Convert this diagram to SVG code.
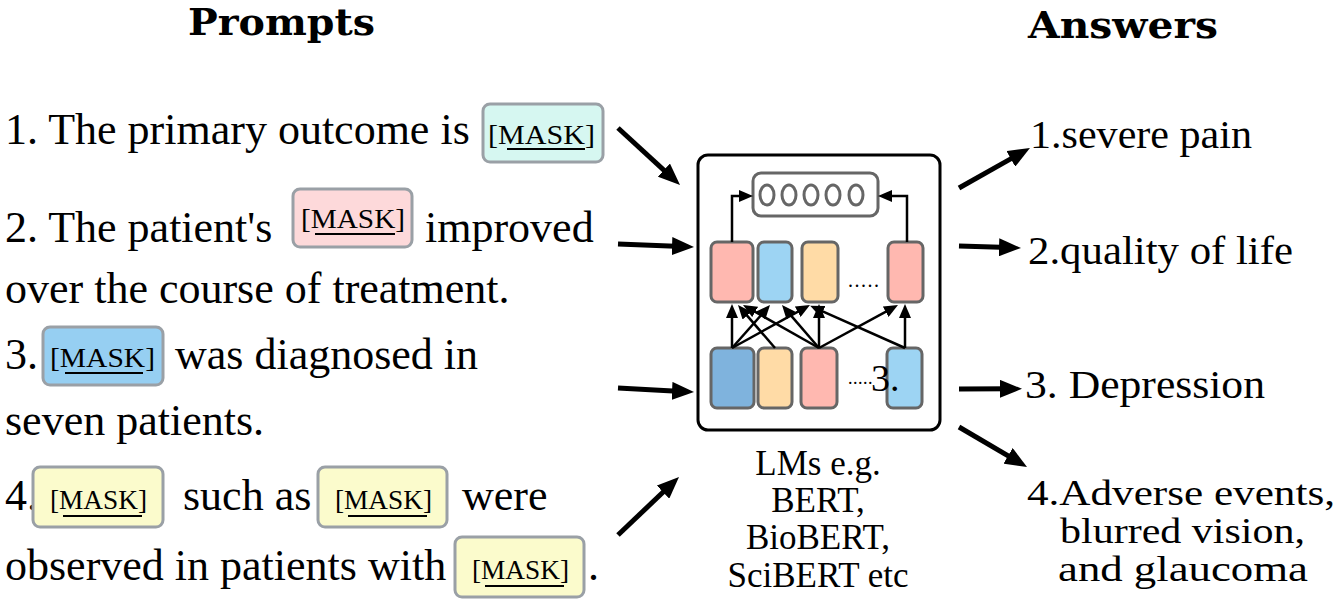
<svg xmlns="http://www.w3.org/2000/svg" width="1338" height="601" viewBox="0 0 1338 601">
<style>
.t{font-family:"Liberation Serif","Times New Roman",serif;font-size:44px;fill:#000}
.r{font-family:"Liberation Serif","Times New Roman",serif;font-size:40px;fill:#000}
.r4{font-family:"Liberation Serif","Times New Roman",serif;font-size:35px;fill:#000}
.lm{font-family:"Liberation Serif","Times New Roman",serif;font-size:35px;fill:#000;text-anchor:middle}
.h{font-family:"DejaVu Serif","Liberation Serif",serif;font-weight:bold;font-size:38px;fill:#000}
.mk{font-family:"Liberation Serif","Times New Roman",serif;font-size:28px;fill:#000}
.ul{stroke:#000;stroke-width:2}
.mbox{stroke:#9aa0a6;stroke-width:3}
.cell{stroke:#666;stroke-width:3}
.pink{fill:#ffb8b0}.blue{fill:#9dd4f3}.orange{fill:#ffdba6}.dblue{fill:#7fb3dd}
.big{stroke:#000;stroke-width:5;fill:none}
.small{stroke:#000;stroke-width:2.5;fill:none}
</style>
<defs>
<marker id="ab" markerUnits="userSpaceOnUse" markerWidth="24" markerHeight="18" refX="10" refY="9" orient="auto">
<path d="M0,0 L22,9 L0,18 z" fill="#000"/>
</marker>
<marker id="as" markerUnits="userSpaceOnUse" markerWidth="14" markerHeight="12" refX="4" refY="6" orient="auto">
<path d="M0,0 L14,6 L0,12 z" fill="#000"/>
</marker>
</defs>
<rect width="1338" height="601" fill="#fff"/>

<g id="titles">
<text class="h" x="188" y="35" textLength="187" lengthAdjust="spacingAndGlyphs">Prompts</text>
<text class="h" x="1028" y="38" textLength="190" lengthAdjust="spacingAndGlyphs">Answers</text>
</g>

<g id="prompt1">
<text class="t" x="5" y="144">1. The primary outcome is</text>
<rect class="mbox" x="483" y="104" width="120" height="58" rx="7" fill="#d6f7f1"/>
<text class="mk" x="488" y="144" textLength="107" lengthAdjust="spacingAndGlyphs">[MASK]</text>
<line class="ul" x1="507" y1="149" x2="585" y2="149"/>
</g>

<g id="prompt2">
<text class="t" x="5" y="242">2. The patient's</text>
<rect class="mbox" x="293" y="189" width="119" height="58" rx="7" fill="#fdd9da"/>
<text class="mk" x="301" y="228" textLength="104" lengthAdjust="spacingAndGlyphs">[MASK]</text>
<line class="ul" x1="315" y1="234" x2="395" y2="234"/>
<text class="t" x="425" y="242">improved</text>
<text class="t" x="5" y="303">over the course of treatment.</text>
</g>

<g id="prompt3">
<text class="t" x="5" y="369">3.</text>
<rect class="mbox" x="43" y="327" width="120" height="58" rx="7" fill="#96cff2"/>
<text class="mk" x="50" y="367" textLength="105" lengthAdjust="spacingAndGlyphs">[MASK]</text>
<line class="ul" x1="65" y1="373" x2="143" y2="373"/>
<text class="t" x="175" y="369">was diagnosed in</text>
<text class="t" x="5" y="435">seven patients.</text>
</g>

<g id="prompt4">
<text class="t" x="5" y="510">4.</text>
<rect class="mbox" x="33" y="467" width="130" height="60" rx="7" fill="#fbfbcc"/>
<text class="mk" x="50" y="509" textLength="97" lengthAdjust="spacingAndGlyphs">[MASK]</text>
<line class="ul" x1="63" y1="516" x2="142" y2="516"/>
<text class="t" x="183" y="510">such as</text>
<rect class="mbox" x="318" y="467" width="129" height="60" rx="7" fill="#fbfbcc"/>
<text class="mk" x="335" y="509" textLength="97" lengthAdjust="spacingAndGlyphs">[MASK]</text>
<line class="ul" x1="348" y1="516" x2="427" y2="516"/>
<text class="t" x="462" y="510">were</text>
<text class="t" x="5" y="580">observed in patients with</text>
<rect class="mbox" x="455" y="537" width="129" height="60" rx="7" fill="#fbfbcc"/>
<text class="mk" x="472" y="579" textLength="97" lengthAdjust="spacingAndGlyphs">[MASK]</text>
<line class="ul" x1="485" y1="586" x2="564" y2="586"/>
<text class="t" x="588" y="580">.</text>
</g>

<g id="lm">
<rect x="698" y="155" width="242" height="275" rx="10" fill="#fff" stroke="#000" stroke-width="3"/>
<g id="output">
<rect class="cell" x="753" y="173" width="125" height="43" rx="8" fill="#fff"/>
<g fill="none" stroke="#666" stroke-width="3">
<ellipse cx="767" cy="195" rx="7" ry="10"/>
<ellipse cx="789" cy="195" rx="7" ry="10"/>
<ellipse cx="811" cy="195" rx="7" ry="10"/>
<ellipse cx="833" cy="195" rx="7" ry="10"/>
<ellipse cx="856" cy="195" rx="7" ry="10"/>
</g>
</g>
<g id="upper">
<rect class="cell pink" x="711" y="242" width="42" height="60" rx="6"/>
<rect class="cell blue" x="758" y="242" width="34" height="60" rx="6"/>
<rect class="cell orange" x="802" y="242" width="36" height="60" rx="6"/>
<rect class="cell pink" x="888" y="242" width="35" height="60" rx="6"/>
<text x="848" y="287" font-family="Liberation Serif,serif" font-size="20" letter-spacing="1.5">.....</text>
</g>
<g id="lower">
<rect class="cell dblue" x="711" y="348" width="43" height="60" rx="6"/>
<rect class="cell orange" x="758" y="348" width="34" height="60" rx="6"/>
<rect class="cell pink" x="801" y="348" width="36" height="60" rx="6"/>
<rect class="cell blue" x="887" y="348" width="35" height="60" rx="6"/>
<text x="848" y="384" font-family="Liberation Serif,serif" font-size="18" letter-spacing="0.5">.....</text>
<text x="871" y="391" font-family="Liberation Serif,serif" font-size="38">3.</text>
</g>
</g>

<g id="lm-label">
<text class="lm" x="818" y="475">LMs e.g.</text>
<text class="lm" x="818" y="512">BERT,</text>
<text class="lm" x="818" y="549">BioBERT,</text>
<text class="lm" x="818" y="587">SciBERT etc</text>
</g>

<g id="answers">
<text class="r" x="1030" y="148" textLength="222" lengthAdjust="spacingAndGlyphs">1.severe pain</text>
<text class="r" x="1028" y="264" textLength="265" lengthAdjust="spacingAndGlyphs">2.quality of life</text>
<text class="r" x="1025" y="398" textLength="240" lengthAdjust="spacingAndGlyphs">3. Depression</text>
<text class="r4" x="1027" y="505" textLength="308" lengthAdjust="spacingAndGlyphs">4.Adverse events,</text>
<text class="r4" x="1060" y="543" textLength="245" lengthAdjust="spacingAndGlyphs">blurred vision,</text>
<text class="r4" x="1058" y="581" textLength="250" lengthAdjust="spacingAndGlyphs">and glaucoma</text>
</g>

<g id="connectors">
<line class="big" x1="618" y1="128" x2="671.2" y2="176.9" marker-end="url(#ab)"/>
<line class="big" x1="618" y1="244" x2="682" y2="246.5" marker-end="url(#ab)"/>
<line class="big" x1="618" y1="388" x2="682" y2="391.4" marker-end="url(#ab)"/>
<line class="big" x1="618" y1="535" x2="670.3" y2="485.3" marker-end="url(#ab)"/>
<line class="big" x1="959" y1="188" x2="1019.5" y2="153.9" marker-end="url(#ab)"/>
<line class="big" x1="959" y1="246" x2="1009" y2="247.6" marker-end="url(#ab)"/>
<line class="big" x1="959" y1="389" x2="1010" y2="388.8" marker-end="url(#ab)"/>
<line class="big" x1="959" y1="427" x2="1016.7" y2="460.9" marker-end="url(#ab)"/>
<path class="small" d="M732,242 V196 H743" marker-end="url(#as)"/>
<path class="small" d="M907,242 V196 H888" marker-end="url(#as)"/>
<line class="small" x1="732" y1="348" x2="732" y2="314" marker-end="url(#as)"/>
<line class="small" x1="732" y1="348" x2="763.4" y2="312.5" marker-end="url(#as)"/>
<line class="small" x1="732" y1="348" x2="801.2" y2="309.8" marker-end="url(#as)"/>
<line class="small" x1="775" y1="348" x2="744.5" y2="312.6" marker-end="url(#as)"/>
<line class="small" x1="819" y1="348" x2="751.7" y2="309.9" marker-end="url(#as)"/>
<line class="small" x1="819" y1="348" x2="788.5" y2="312.6" marker-end="url(#as)"/>
<line class="small" x1="819" y1="348" x2="819" y2="314" marker-end="url(#as)"/>
<line class="small" x1="819" y1="348" x2="889.2" y2="309.8" marker-end="url(#as)"/>
<line class="small" x1="905" y1="348" x2="819.3" y2="309.9" marker-end="url(#as)"/>
<line class="small" x1="905" y1="348" x2="905" y2="314" marker-end="url(#as)"/>
</g>
</svg>
